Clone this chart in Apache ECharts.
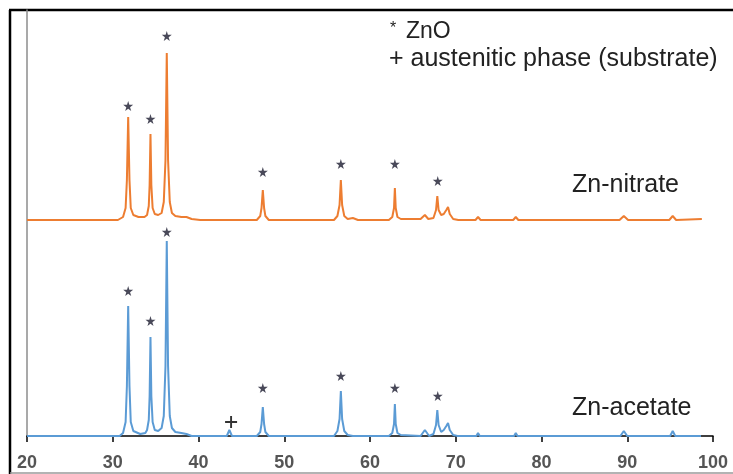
<!DOCTYPE html>
<html>
<head>
<meta charset="utf-8">
<script src="https://cdn.jsdelivr.net/npm/echarts@6/dist/echarts.min.js"></script>
<style>
  html, body { margin: 0; padding: 0; background: #fff; }
  #chart { width: 733px; height: 474px; }
</style>
</head>
<body>
<div id="chart"></div>
<script>
// 2theta (deg) and intensity (a.u.)
var nitrateX = [20, 30.6, 31.2, 31.5, 31.65, 31.8, 31.95, 32.1, 32.4, 33.0, 33.7, 34.0, 34.2, 34.3, 34.4, 34.5, 34.65, 34.9, 35.3, 35.7, 35.95,
  36.15, 36.3, 36.45, 36.65, 36.9, 37.3, 38.0, 38.6, 39.2, 40.2,
  46.8, 47.2, 47.35, 47.5, 47.65, 47.8, 48.2, 55.8, 56.2, 56.45, 56.6, 56.75, 57.0, 57.4, 58.0, 58.6,
  62.2, 62.6, 62.8, 62.9, 63.0, 63.2, 63.6, 65.9, 66.4, 66.8, 67.4, 67.7, 67.85, 68.0, 68.3, 68.6, 68.9, 69.1, 69.3, 69.7,
  70.3, 72.3, 72.6, 72.9, 76.7, 77.0, 77.3, 81.4, 81.6, 81.8, 89.1, 89.6, 90.1, 92.8, 93.0, 93.2, 94.9, 95.3, 95.7, 98.7];
var nitrateY = [0, 0, 3, 12, 40, 103, 40, 12, 5, 3, 3, 5, 14, 35, 86, 35, 12, 6, 5, 7, 18,
  60, 167, 60, 18, 7, 4, 3, 3, 1, 0,
  0, 4, 12, 30, 12, 4, 0, 0, 4, 15, 40, 15, 4, 1, 2, 0,
  0, 3, 12, 32, 12, 3, 1, 1, 5, 1, 2, 10, 24, 10, 5, 6, 10, 13, 6, 1,
  0, 0, 3, 0, 0, 3, 0, 0, 2, 0, 0, 4, 0, 0, 2, 0, 0, 4, 0, 1];
var nitrateOffset = 216;

var acetateX = [20, 30.8, 31.2, 31.5, 31.65, 31.8, 31.95, 32.1, 32.4, 33.2, 33.8, 34.0, 34.2, 34.3, 34.4, 34.5, 34.65, 34.9, 35.3, 35.7, 35.95,
  36.15, 36.3, 36.45, 36.65, 36.9, 37.3, 38.0, 38.6, 39.2,
  43.3, 43.6, 43.9, 46.8, 47.2, 47.35, 47.5, 47.65, 47.8, 48.2, 50.8, 51.0, 51.2,
  55.8, 56.2, 56.45, 56.6, 56.75, 57.0, 57.4, 58.0, 62.2, 62.6, 62.8, 62.9, 63.0, 63.2, 63.6,
  65.9, 66.4, 66.9, 67.4, 67.7, 67.85, 68.0, 68.3, 68.6, 68.9, 69.1, 69.3, 69.7, 70.2,
  72.4, 72.6, 72.8, 76.8, 77.0, 77.2, 89.2, 89.6, 90.0, 95.0, 95.3, 95.6, 98.6];
var acetateY = [0, 0, 3, 14, 50, 130, 50, 14, 5, 2, 3, 6, 16, 40, 99, 40, 14, 6, 5, 8, 20,
  70, 195, 70, 20, 8, 4, 3, 2, 0,
  0, 6, 0, 0, 4, 12, 29, 12, 4, 0, 0, 2, 0,
  0, 5, 17, 45, 17, 5, 1, 0, 0, 3, 12, 32, 12, 3, 1,
  0, 6, 0, 2, 11, 26, 11, 4, 6, 10, 13, 6, 1, 0,
  0, 3, 0, 0, 3, 0, 0, 5, 0, 0, 5, 0, 0];

// peak markers
var starX = [31.8, 34.4, 36.3, 47.5, 56.6, 62.9, 67.9];
var starNitrateY = [330, 317, 400, 264, 272, 272, 255];
var starAcetateY = [145, 115, 204, 48, 60, 48, 40];
var plusX = [43.8];
var plusY = [14];

var starPath = 'path://M50,0 L61,35 L98,35 L68,57 L79,91 L50,70 L21,91 L32,57 L2,35 L39,35 Z';
var plusPath = 'path://M0,42 L100,42 L100,58 L0,58 Z M42,0 L58,0 L58,100 L42,100 Z';

function pairs(xs, ys, off) {
    var out = [];
    for (let i = 0; i < xs.length; i++) {
        out.push([xs[i], ys[i] + (off || 0)]);
    }
    return out;
}

var myChart = echarts.init(document.getElementById('chart'));

var option = {
    animation: false,
    backgroundColor: '#fff',
    grid: { left: 27, right: 20, top: 10, bottom: 38 },
    xAxis: {
        type: 'value',
        min: 20,
        max: 100,
        interval: 10,
        axisLine: { show: true, onZero: false, lineStyle: { color: '#000', width: 1.5 } },
        axisTick: { show: true, inside: false, length: 6, lineStyle: { color: '#000', width: 1.5 } },
        axisLabel: {
            color: '#555',
            fontSize: 18,
            fontWeight: 'bold',
            fontFamily: 'Liberation Sans',
            margin: 18
        },
        splitLine: { show: false }
    },
    yAxis: {
        type: 'value',
        min: 0,
        max: 426,
        axisLine: { show: true, lineStyle: { color: '#8c8c8c', width: 1.5 } },
        axisTick: { show: false },
        axisLabel: { show: false },
        splitLine: { show: false }
    },
    series: [
        {
            name: 'Zn-nitrate',
            type: 'line',
            showSymbol: false,
            data: pairs(nitrateX, nitrateY, nitrateOffset),
            lineStyle: { color: '#ed7d31', width: 2 },
            itemStyle: { color: '#ed7d31' }
        },
        {
            name: 'Zn-acetate',
            type: 'line',
            showSymbol: false,
            data: pairs(acetateX, acetateY, 0),
            lineStyle: { color: '#5b9bd5', width: 2 },
            itemStyle: { color: '#5b9bd5' }
        },
        {
            type: 'scatter',
            symbol: starPath,
            symbolSize: 10,
            itemStyle: { color: '#1c1c30' },
            data: pairs(starX, starNitrateY).concat(pairs(starX, starAcetateY))
        },
        {
            type: 'scatter',
            symbol: plusPath,
            symbolSize: 12,
            itemStyle: { color: '#000' },
            data: pairs(plusX, plusY)
        }
    ],
    graphic: [
        {
            type: 'line',
            shape: { x1: 10, y1: 10, x2: 10, y2: 474 },
            style: { stroke: '#000', lineWidth: 2.5 }
        },
        {
            type: 'line',
            shape: { x1: 9, y1: 10, x2: 733, y2: 10 },
            style: { stroke: '#000', lineWidth: 2.5 }
        },
        {
            type: 'line',
            shape: { x1: 10, y1: 473, x2: 733, y2: 473 },
            style: { stroke: '#9a9a9a', lineWidth: 1.5 }
        },
        {
            type: 'text', left: 390, top: 21,
            style: { text: '*', fontSize: 16, fill: '#222', fontFamily: 'Liberation Sans' }
        },
        {
            type: 'text', left: 406, top: 20,
            style: { text: 'ZnO', fontSize: 23, fill: '#222', fontFamily: 'Liberation Sans' }
        },
        {
            type: 'text', left: 389, top: 47,
            style: { text: '+ austenitic phase (substrate)', fontSize: 25, fill: '#222', fontFamily: 'Liberation Sans' }
        },
        {
            type: 'text', left: 572, top: 173,
            style: { text: 'Zn-nitrate', fontSize: 25, fill: '#222', fontFamily: 'Liberation Sans' }
        },
        {
            type: 'text', left: 572, top: 396,
            style: { text: 'Zn-acetate', fontSize: 25, fill: '#222', fontFamily: 'Liberation Sans' }
        }
    ]
};

myChart.setOption(option);
</script>
</body>
</html>
